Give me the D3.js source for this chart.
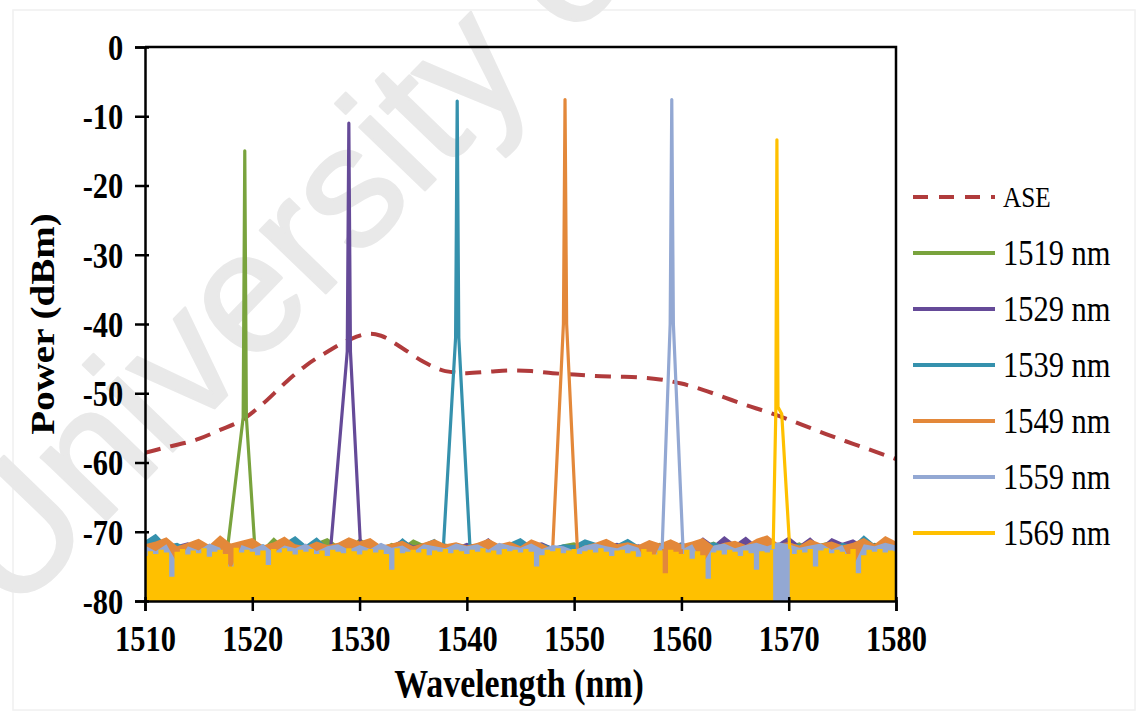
<!DOCTYPE html>
<html>
<head>
<meta charset="utf-8">
<script src="https://cdn.jsdelivr.net/npm/d3@7"></script>
<style>
  body { margin: 0; background: #fff; }
  svg { display: block; }
</style>
</head>
<body>
<div id="main"></div>
<script>
// ---- data ----
const xTicks = [1510, 1520, 1530, 1540, 1550, 1560, 1570, 1580]
const yTicks = [0, -10, -20, -30, -40, -50, -60, -70, -80]
const seriesNames = ["1519 nm", "1529 nm", "1539 nm", "1549 nm", "1559 nm", "1569 nm"]
const seriesColors = ["#79a33d", "#654a98", "#3591ad", "#e3883a", "#93a8d3", "#ffc000"]

// ASE spectrum [wavelength, dBm]
const aseData = [[1510,-58.6],[1512,-57.8],[1515,-56.6],[1517,-55.3],[1519,-53.9],[1521,-51.5],
  [1523,-48.6],[1525,-46],[1527,-44],[1529,-42.3],[1531,-41.4],[1532,-41.7],[1534,-43.5],
  [1536,-45.5],[1538,-46.8],[1540,-47.1],[1542,-46.9],[1544,-46.7],[1546,-46.8],[1548,-47.1],
  [1550,-47.3],[1552,-47.5],[1554,-47.6],[1556,-47.7],[1558,-48],[1560,-48.6],[1562,-49.5],
  [1564,-50.6],[1566,-51.7],[1568,-52.7],[1570,-53.8],[1572,-55],[1574,-56.2],[1576,-57.3],
  [1578,-58.4],[1580,-59.5]]

// laser lines (peak part of each trace)
const peak1519 = [[1517.7,-72.3],[1519.15,-53.5],[1519.3,-15],[1519.45,-53.5],[1520.25,-72.5]]
const peak1529 = [[1527.3,-72.5],[1528.85,-44],[1529.0,-11],[1529.15,-44],[1530.1,-72.5]]
const peak1539 = [[1537.8,-72.5],[1538.95,-42],[1539.1,-7.8],[1539.25,-42],[1540.3,-72.5]]
const peak1549 = [[1548.0,-72.5],[1549.0,-40],[1549.15,-7.6],[1549.3,-40],[1550.3,-72.5]]
const peak1559 = [[1558.2,-72.5],[1558.95,-40],[1559.1,-7.6],[1559.25,-40],[1560.15,-72.5]]
const peak1569 = [[1568.55,-72.5],[1568.8,-52.5],[1568.9,-13.4],[1569.0,-52],[1569.35,-53],[1570.1,-72.5]]

// noise floor, 1 nm steps from 1510 to 1580
const noise1519 = [-71.8,-72.3,-71.2,-72.6,-71.9,-72.2,-72.5,-71.4,-71.9,-72.1,
  -71.7,-72.4,-70.8,-72.2,-71.8,-72.3,-71.5,-70.9,-72.0,-72.4,
  -70.9,-71.9,-72.3,-71.6,-72.2,-71.1,-71.8,-72.5,-71.7,-72.1,
  -72.3,-71.8,-71.4,-72.4,-71.9,-71.0,-72.2,-71.6,-72.3,-71.8,
  -71.5,-72.2,-72.5,-71.7,-72.0,-71.3,-72.3,-71.8,-71.6,-72.2,
  -72.4,-71.7,-72.0,-71.4,-72.2,-72.3,-71.6,-71.9,-71.1,-71.8,
  -72.0,-71.5,-72.3,-71.7,-71.3,-72.2,-71.8,-72.4,-71.6,-71.9,-71.7]
const noise1529 = [-72.2,-71.7,-72.5,-71.9,-71.5,-72.3,-71.8,-72.0,-72.4,-71.6,
  -71.4,-72.2,-71.8,-72.3,-71.7,-72.0,-71.6,-72.4,-71.9,-72.2,
  -71.8,-71.5,-72.3,-71.9,-71.1,-72.0,-71.7,-72.5,-71.8,-72.2,
  -71.6,-72.0,-70.9,-72.2,-71.7,-72.3,-71.8,-71.5,-72.2,-71.9,
  -72.0,-71.7,-72.4,-71.9,-71.6,-72.2,-71.8,-72.3,-71.7,-72.0,
  -71.5,-72.2,-70.8,-71.9,-70.6,-71.8,-70.7,-72.0,-71.0,-71.7,
  -70.7,-71.9,-70.8,-72.2,-70.9,-71.6,-71.1,-72.0,-71.7,-72.2,-71.8]
const noise1539 = [-71.3,-70.3,-71.9,-71.6,-72.3,-71.8,-72.2,-71.5,-72.0,-71.7,
  -72.2,-71.8,-72.4,-71.6,-70.6,-71.9,-70.8,-72.2,-71.8,-72.3,
  -71.6,-72.0,-71.7,-72.4,-70.9,-72.2,-71.7,-71.0,-71.9,-71.8,
  -71.5,-72.2,-71.8,-72.3,-71.6,-70.9,-72.0,-71.7,-72.2,-71.8,
  -71.9,-71.1,-71.6,-72.2,-71.8,-71.0,-72.0,-71.7,-72.3,-71.9,
  -71.6,-72.2,-71.8,-71.5,-72.0,-71.7,-72.3,-71.8,-72.2,-71.6,
  -71.9,-71.7,-72.2,-71.8,-72.3,-71.6,-72.0,-70.5,-71.8,-72.2,-71.7]
const noise1549 = [-71.8,-71.4,-70.8,-72.1,-71.6,-71.0,-71.9,-70.5,-71.7,-71.3,
  -70.9,-72.0,-71.5,-70.7,-71.8,-72.1,-71.4,-71.9,-71.6,-70.8,
  -71.4,-70.9,-72.0,-71.7,-71.3,-72.1,-71.6,-71.1,-71.8,-71.5,
  -72.0,-71.6,-71.0,-71.8,-71.4,-72.1,-71.1,-71.7,-71.9,-71.5,
  -71.3,-72.0,-71.6,-71.0,-71.8,-71.5,-71.9,-71.2,-71.7,-71.1,
  -71.8,-71.4,-70.9,-72.1,-71.6,-71.3,-71.9,-71.0,-70.5,-71.7,
  -71.5,-72.0,-71.1,-71.7,-71.4,-72.0,-71.6,-70.9,-71.8,-70.6,-71.4]
const noise1559 = [-72.0,-72.8,-71.8,-74.5,-72.1,-72.7,-71.7,-72.3,-75.4,-71.9,
  -72.5,-71.8,-73.0,-72.0,-72.4,-71.7,-72.8,-72.1,-71.8,-72.6,
  -71.9,-72.5,-71.6,-72.3,-72.0,-72.9,-71.8,-72.1,-72.4,-71.7,
  -72.1,-71.8,-72.6,-71.6,-72.0,-72.3,-71.7,-72.5,-71.9,-72.1,
  -72.7,-72.0,-71.7,-72.1,-72.4,-71.8,-72.3,-75.3,-71.9,-71.6,
  -72.5,-71.8,-74.6,-72.0,-71.7,-72.4,-71.9,-71.6,-72.1,-71.5,
  -71.8,-72.3,-72.0,-71.7,-72.6,-71.9,-75.0,-71.8,-72.1,-71.6,-72.0]
// 1569 nm trace noise, 0.5 nm steps from 1510 to 1580
const noise1569 = [-73.5,-72.8,-73.2,-72.6,-73.0,-76.5,-72.9,-72.5,-73.3,-72.7,
  -73.1,-72.4,-73.6,-72.9,-72.6,-73.2,-75.0,-72.3,-73.0,-72.6,
  -72.9,-73.4,-72.7,-74.8,-72.5,-73.0,-72.4,-72.8,-73.3,-72.6,
  -72.9,-72.5,-73.2,-72.7,-73.5,-72.6,-72.9,-73.1,-72.4,-72.8,
  -73.3,-72.7,-72.5,-73.0,-72.6,-73.2,-75.5,-72.4,-73.1,-72.9,
  -72.6,-73.0,-72.5,-73.4,-72.7,-72.9,-72.5,-73.1,-72.6,-72.8,
  -73.2,-72.6,-72.9,-72.4,-73.0,-72.7,-73.3,-72.5,-72.8,-72.6,
  -73.0,-72.5,-72.9,-75.0,-73.4,-72.6,-72.8,-72.4,-73.1,-72.7,
  -72.5,-73.2,-72.8,-72.6,-73.0,-72.4,-72.9,-73.5,-72.7,-72.6,
  -73.1,-72.8,-73.6,-72.5,-72.9,-73.3,-72.7,-76.0,-72.6,-72.9,
  -73.2,-72.6,-73.9,-72.8,-73.4,-76.8,-73.0,-72.7,-73.3,-72.6,
  -72.9,-73.5,-72.7,-73.1,-75.5,-72.8,-73.0,-72.6,-72.9,-72.5,
  -72.8,-73.2,-72.6,-73.0,-72.5,-75.0,-72.7,-72.4,-73.1,-72.6,
  -72.9,-73.2,-72.5,-76.0,-73.4,-72.6,-72.9,-72.5,-73.0,-72.7,
  -72.8]

const peaks = [peak1519, peak1529, peak1539, peak1549, peak1559, peak1569]
const noises = [noise1519, noise1529, noise1539, noise1549, noise1559, noise1569]
const noiseSteps = [1, 1, 1, 1, 1, 0.5]

// ---- chart ----
const W = 1141, H = 711
const svg = d3.select("#main").append("svg").attr("width", W).attr("height", H)
const fontSerif = "'Liberation Serif','Times New Roman',serif"
const squeeze = 0.87   // the source picture is a bit narrow horizontally

// faint page frame and watermark
svg.append("rect").attr("x", 13).attr("y", 10).attr("width", 1122).attr("height", 700)
  .attr("fill", "none").attr("stroke", "#f0f0f0").attr("stroke-width", 1.5)
svg.append("text").text("University of Malaya")
  .attr("transform", "translate(12,618) rotate(-46)")
  .attr("font-family", "'Liberation Sans',Arial,sans-serif")
  .attr("font-size", 172).attr("fill", "#e9e9e9")
  .attr("stroke", "#e9e9e9").attr("stroke-width", 2.5).attr("stroke-linejoin", "round")

const x = d3.scaleLinear().domain([1510, 1580]).range([145, 896])
const y = d3.scaleLinear().domain([-80, 0]).range([601, 47])

svg.append("clipPath").attr("id", "plotclip").append("rect")
  .attr("x", 145).attr("y", 47).attr("width", 751).attr("height", 554)
const plot = svg.append("g").attr("clip-path", "url(#plotclip)")

const line = d3.line().x(d => x(d[0])).y(d => y(d[1]))
const smooth = d3.line().x(d => x(d[0])).y(d => y(d[1])).curve(d3.curveMonotoneX)

// ASE dashed
plot.append("path").datum(aseData).attr("d", smooth)
  .attr("fill", "none").attr("stroke", "#b03b3c").attr("stroke-width", 4)
  .attr("stroke-dasharray", "16,10")

// laser traces: noise floor (clipped at -80) + peak
peaks.forEach((pk, i) => {
  const step = noiseSteps[i]
  const pts = noises[i].map((v, k) => [1510 + k * step, v])
  const p0 = pk[0], p1 = pk[pk.length - 1]
  const left = pts.filter(d => d[0] < p0[0]).concat([p0])
  const right = [p1].concat(pts.filter(d => d[0] > p1[0]))
  const area = d3.area().x(d => x(d[0])).y0(y(-80)).y1(d => y(d[1]))
    .curve(i === 5 ? d3.curveStep : d3.curveLinear)
  ;[left, right].forEach(seg => {
    plot.append("path").datum(seg).attr("d", area).attr("fill", seriesColors[i])
  })
  plot.append("path").datum(pk).attr("d", line)
    .attr("fill", "none").attr("stroke", seriesColors[i]).attr("stroke-width", 3.2)
    .attr("stroke-linejoin", "round")
})

// axes
const gx = svg.append("g").attr("transform", "translate(0,601)")
  .call(d3.axisBottom(x).tickValues(xTicks).tickSize(10).tickFormat(String))
const gy = svg.append("g").attr("transform", "translate(145,0)")
  .call(d3.axisLeft(y).tickValues(yTicks).tickSize(10).tickFormat(String))
gy.selectAll(".tick line").attr("x1", 4)
gx.selectAll(".tick line").attr("y1", -4)
;[gx, gy].forEach(g => {
  g.select(".domain").attr("stroke", "#000").attr("stroke-width", 2.5)
  g.selectAll(".tick line").attr("stroke", "#000").attr("stroke-width", 2.5)
  g.selectAll("text").attr("font-family", fontSerif).attr("font-weight", "bold")
    .attr("font-size", 35).attr("fill", "#000")
    .attr("transform", `scale(${squeeze},1)`)
})
gx.selectAll("text").attr("dy", "1.05em")
gy.selectAll("text").attr("x", -25).attr("dy", "0.35em")

// top & right frame
svg.append("path").attr("d", `M${x(1510)},${y(0)}H${x(1580)}V${y(-80)}`)
  .attr("fill", "none").attr("stroke", "#000").attr("stroke-width", 2.5)

// axis titles
svg.append("text").text("Wavelength (nm)")
  .attr("transform", `translate(519,697) scale(${squeeze},1)`).attr("text-anchor", "middle")
  .attr("font-family", fontSerif).attr("font-weight", "bold").attr("font-size", 39)
svg.append("text").text("Power (dBm)")
  .attr("transform", `translate(54,324) scale(${squeeze},1) rotate(-90)`).attr("text-anchor", "middle")
  .attr("font-family", fontSerif).attr("font-weight", "bold").attr("font-size", 39)

// legend
const legNames = ["ASE"].concat(seriesNames)
const legColors = ["#b03b3c"].concat(seriesColors)
const leg = svg.append("g")
legNames.forEach((n, i) => {
  const ly = 197 + i * 56
  leg.append("line").attr("x1", 913).attr("x2", 995).attr("y1", ly).attr("y2", ly)
    .attr("stroke", legColors[i]).attr("stroke-width", 4)
    .attr("stroke-dasharray", i === 0 ? "15,11" : null)
  leg.append("text").text(n)
    .attr("transform", `translate(1003,${ly}) scale(${squeeze},1)`).attr("dy", "0.35em")
    .attr("font-family", fontSerif).attr("font-size", i === 0 ? 29 : 35).attr("fill", "#000")
})
</script>
</body>
</html>
